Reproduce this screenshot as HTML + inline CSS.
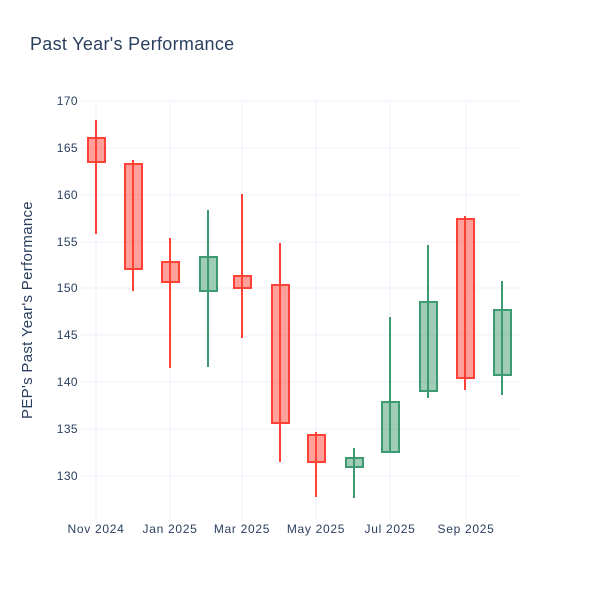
<!DOCTYPE html>
<html><head><meta charset="utf-8"><style>
body{margin:0;background:#fff}
svg text{font-family:"Liberation Sans",sans-serif;fill:#2a3f5f}
</style></head><body>
<svg width="600" height="600" xmlns="http://www.w3.org/2000/svg">
<rect width="600" height="600" fill="#fff"/>
<text x="30" y="50" font-size="18" letter-spacing="0.3">Past Year's Performance</text>
<g stroke="#EBF0F8" stroke-width="1">
<line x1="80" x2="520" y1="101" y2="101"/>
<line x1="80" x2="520" y1="148" y2="148"/>
<line x1="80" x2="520" y1="195" y2="195"/>
<line x1="80" x2="520" y1="242" y2="242"/>
<line x1="80" x2="520" y1="288" y2="288"/>
<line x1="80" x2="520" y1="335" y2="335"/>
<line x1="80" x2="520" y1="382" y2="382"/>
<line x1="80" x2="520" y1="429" y2="429"/>
<line x1="80" x2="520" y1="476" y2="476"/>
<line x1="96" x2="96" y1="101" y2="520"/>
<line x1="170" x2="170" y1="101" y2="520"/>
<line x1="242" x2="242" y1="101" y2="520"/>
<line x1="316" x2="316" y1="101" y2="520"/>
<line x1="390" x2="390" y1="101" y2="520"/>
<line x1="466" x2="466" y1="101" y2="520"/>
</g>
<g font-size="12" text-anchor="end" letter-spacing="0.4">
<text x="78" y="105">170</text><text x="78" y="152">165</text><text x="78" y="199">160</text>
<text x="78" y="246">155</text><text x="78" y="292">150</text><text x="78" y="339">145</text>
<text x="78" y="386">140</text><text x="78" y="433">135</text><text x="78" y="480">130</text>
</g>
<g font-size="12" text-anchor="middle" letter-spacing="0.7">
<text x="96" y="533">Nov 2024</text><text x="170" y="533">Jan 2025</text><text x="242" y="533">Mar 2025</text>
<text x="316" y="533">May 2025</text><text x="390" y="533">Jul 2025</text><text x="466" y="533">Sep 2025</text>
</g>
<text transform="translate(32,310) rotate(-90)" font-size="15" letter-spacing="0.3" text-anchor="middle">PEP's Past Year's Performance</text>
<g stroke="#FF4136" stroke-width="2" fill="rgba(255,65,54,0.5)">
<line x1="96" x2="96" y1="120" y2="234"/><rect x="88" y="138" width="17" height="24"/>
<line x1="133" x2="133" y1="160" y2="291"/><rect x="125" y="164" width="17" height="105"/>
<line x1="170" x2="170" y1="238" y2="368"/><rect x="162" y="262" width="17" height="20"/>
<line x1="242" x2="242" y1="194" y2="338"/><rect x="234" y="276" width="17" height="12"/>
<line x1="280" x2="280" y1="243" y2="462"/><rect x="272" y="285" width="17" height="138"/>
<line x1="316" x2="316" y1="432" y2="497"/><rect x="308" y="435" width="17" height="27"/>
<line x1="465" x2="465" y1="216" y2="390"/><rect x="457" y="219" width="17" height="159"/>
</g>
<g stroke="#3D9970" stroke-width="2" fill="rgba(61,153,112,0.5)">
<line x1="208" x2="208" y1="210" y2="367"/><rect x="200" y="257" width="17" height="34"/>
<line x1="354" x2="354" y1="448" y2="498"/><rect x="346" y="458" width="17" height="9"/>
<line x1="390" x2="390" y1="317" y2="452"/><rect x="382" y="402" width="17" height="50"/>
<line x1="428" x2="428" y1="245" y2="398"/><rect x="420" y="302" width="17" height="89"/>
<line x1="502" x2="502" y1="281" y2="395"/><rect x="494" y="310" width="17" height="65"/>
</g>
</svg>
</body></html>
